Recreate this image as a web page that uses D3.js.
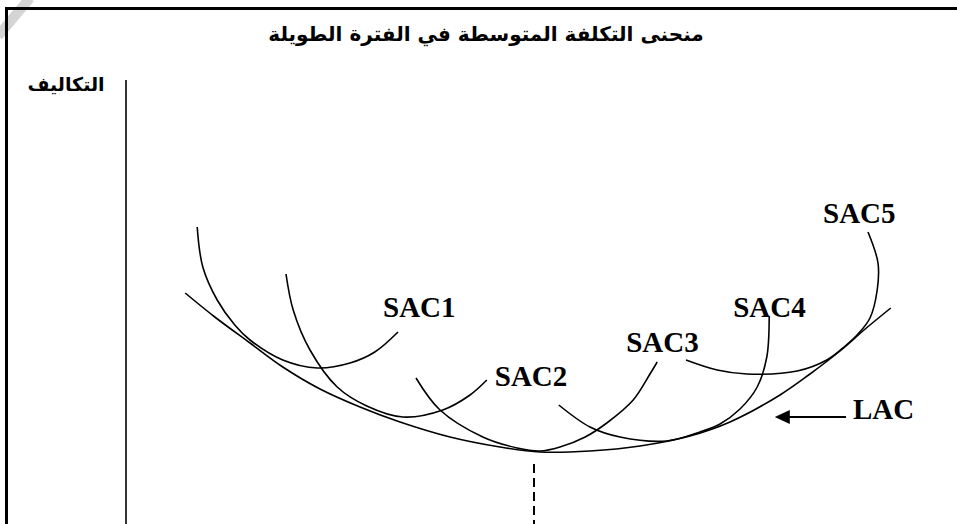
<!DOCTYPE html>
<html>
<head>
<meta charset="utf-8">
<script src="https://cdn.jsdelivr.net/npm/d3@7"></script>
<style>
  body { margin: 0; background: #fff; }
</style>
</head>
<body>
<svg id="lac" width="957" height="524"></svg>
<script>
// values, in abstract units (output, cost)
const titleText = "منحنى التكلفة المتوسطة في الفترة الطويلة";
const costLabel = "التكاليف";
const curveNames = ["SAC1", "SAC2", "SAC3", "SAC4", "SAC5"];
const lacName = "LAC";

const sac1 = [[8.9,74.25],[9.6,64.25],[11.4,56],[13.6,49.75],[15.5,46],[19.6,41],[23.9,39],[28,40.25],[31.1,43],[34,48]];
const sac2 = [[20,62.5],[20.9,53.5],[23,43.5],[26.4,34.25],[30.1,29.5],[34.6,26.75],[39.6,28.5],[43,32.25],[45.1,36]];
const sac3 = [[36.25,36.5],[39.25,28.5],[44.6,21.75],[48.9,19],[51.75,18.25],[54.25,19.25],[57.4,21.75],[60.1,25.25],[63.4,31],[65.5,37.5],[66.4,40.5]];
const sac4 = [[54.1,29.75],[58,24.25],[61.75,21.75],[67.6,20.75],[71.75,23],[74.25,25],[76.75,28.75],[78.9,34.25],[80.1,41.75],[80.4,51.75]];
const sac5 = [[70,41],[73.9,38.5],[77.6,37.5],[83.9,38.25],[87.6,41],[89.9,44.5],[91.5,47.5],[93,51.5],[93.9,58.5],[94,65.25],[92.75,73]];
const lacPoints = [[7.4,57.75],[11.1,51.75],[15.5,45.25],[19.6,39.25],[24.25,33.75],[29.25,29.25],[34.25,25.5],[40.5,21.75],[46.75,19.25],[51.75,18],[58,18.25],[64.25,19.5],[70.5,22],[75.5,25.5],[81.75,32.25],[85.5,37.5],[89.25,43.25],[92.4,48.75],[95.6,54]];

const optimumOutput = [51, 15];      // dashed drop line: output, top of line
const lacArrowFrom = [90, 26.75];
const lacArrowTo = [81.1, 26.75];
const axisTop = 111;

const svg = d3.select("#lac");
const width = 957, height = 524;

const x = d3.scaleLinear().domain([0, 100]).range([126, 926]);
const y = d3.scaleLinear().domain([0, axisTop]).range([height, 80]);

// faint watermark stroke in the corner of the scan
svg.append("path")
    .attr("d", "M30,-2L-2,36")
    .attr("stroke", "#d4d4d4")
    .attr("stroke-width", 10)
    .attr("fill", "none");

// frame (top + left edge)
svg.append("path")
    .attr("d", `M6.5,${height}V8.5H${width}`)
    .attr("fill", "none")
    .attr("stroke", "#000")
    .attr("stroke-width", 3);

svg.append("text")
    .attr("x", 486)
    .attr("y", 41)
    .attr("text-anchor", "middle")
    .attr("direction", "rtl")
    .attr("font-family", "'DejaVu Sans', Arial, sans-serif")
    .attr("font-weight", "bold")
    .attr("font-size", 20)
    .text(titleText);

svg.append("text")
    .attr("x", 66)
    .attr("y", 91)
    .attr("text-anchor", "middle")
    .attr("direction", "rtl")
    .attr("font-family", "'DejaVu Sans', Arial, sans-serif")
    .attr("font-weight", "bold")
    .attr("font-size", 19)
    .text(costLabel);

// cost axis
svg.append("line")
    .attr("x1", x(0)).attr("x2", x(0))
    .attr("y1", y(axisTop)).attr("y2", y(0))
    .attr("stroke", "#000")
    .attr("stroke-width", 1.6);

const line = d3.line()
    .x(d => x(d[0]))
    .y(d => y(d[1]))
    .curve(d3.curveCatmullRom.alpha(0.5));

const sacs = [sac1, sac2, sac3, sac4, sac5];

svg.selectAll("path.sac")
    .data(sacs)
    .enter()
    .append("path")
    .attr("class", "sac")
    .attr("d", line)
    .attr("fill", "none")
    .attr("stroke", "#000")
    .attr("stroke-width", 1.6);

svg.append("path")
    .attr("class", "lac")
    .attr("d", line(lacPoints))
    .attr("fill", "none")
    .attr("stroke", "#000")
    .attr("stroke-width", 1.6);

// labels sit next to the end of each short-run curve
const labelOffsets = [[-15, -15], [8, 6], [-31, -10], [-36, 0], [-45, -9]];

svg.selectAll("text.sac")
    .data(sacs)
    .enter()
    .append("text")
    .attr("class", "sac")
    .attr("x", (d, i) => x(d[d.length - 1][0]) + labelOffsets[i][0])
    .attr("y", (d, i) => y(d[d.length - 1][1]) + labelOffsets[i][1])
    .attr("font-family", "'Liberation Serif', 'Times New Roman', serif")
    .attr("font-weight", "bold")
    .attr("font-size", 29)
    .text((d, i) => curveNames[i]);

// dashed line under the minimum of LAC
svg.append("line")
    .attr("x1", x(optimumOutput[0])).attr("x2", x(optimumOutput[0]))
    .attr("y1", y(optimumOutput[1])).attr("y2", y(0))
    .attr("stroke", "#000")
    .attr("stroke-width", 2)
    .attr("stroke-dasharray", "9,5");

// LAC arrow + label
const ax0 = x(lacArrowFrom[0]), ay = y(lacArrowFrom[1]), ax1 = x(lacArrowTo[0]);
svg.append("line")
    .attr("x1", ax0).attr("x2", ax1 + 12)
    .attr("y1", ay).attr("y2", ay)
    .attr("stroke", "#000")
    .attr("stroke-width", 2.2);
svg.append("path")
    .attr("d", `M${ax1},${ay}L${ax1 + 15},${ay - 7}L${ax1 + 15},${ay + 7}Z`)
    .attr("fill", "#000");
svg.append("text")
    .attr("x", ax0 + 7)
    .attr("y", ay + 2)
    .attr("font-family", "'Liberation Serif', 'Times New Roman', serif")
    .attr("font-weight", "bold")
    .attr("font-size", 29)
    .text(lacName);
</script>
</body>
</html>
